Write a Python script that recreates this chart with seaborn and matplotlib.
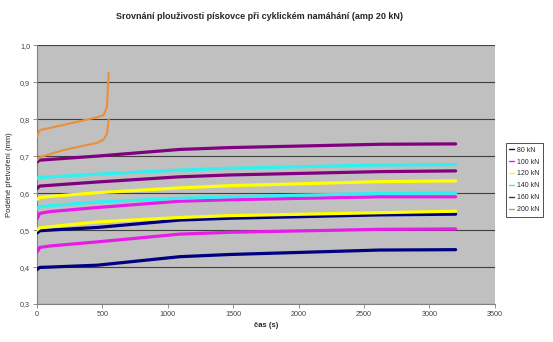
import matplotlib
matplotlib.use("Agg")
import matplotlib.pyplot as plt
import seaborn as sns
import pandas as pd
from matplotlib.ticker import FuncFormatter, MultipleLocator
from matplotlib.lines import Line2D

# ---- data ----
t = [0, 20, 100, 460, 1090, 1475, 2620, 3200]
navy_low = [0.393, 0.399, 0.400, 0.405, 0.428, 0.434, 0.446, 0.447]
navy_high = [0.492, 0.498, 0.500, 0.507, 0.527, 0.532, 0.541, 0.543]
mag_low = [0.440, 0.453, 0.457, 0.468, 0.489, 0.494, 0.502, 0.503]
mag_high = [0.530, 0.545, 0.550, 0.561, 0.578, 0.582, 0.590, 0.590]
yel_low = [0.500, 0.506, 0.509, 0.522, 0.534, 0.539, 0.547, 0.551]
yel_high = [0.583, 0.588, 0.591, 0.601, 0.614, 0.620, 0.631, 0.633]
cyan_low = [0.558, 0.563, 0.566, 0.576, 0.586, 0.590, 0.599, 0.600]
cyan_high = [0.640, 0.642, 0.644, 0.651, 0.662, 0.667, 0.676, 0.677]
pur_low = [0.612, 0.619, 0.621, 0.630, 0.644, 0.649, 0.658, 0.660]
pur_high = [0.684, 0.689, 0.691, 0.700, 0.718, 0.723, 0.732, 0.733]

t_orange = [0, 20, 200, 460, 510, 535, 548]
orange_low = [0.688, 0.697, 0.716, 0.736, 0.745, 0.761, 0.800]
orange_high = [0.752, 0.770, 0.784, 0.805, 0.811, 0.833, 0.925]

loads = ["80 kN", "100 kN", "120 kN", "140 kN", "160 kN", "200 kN"]
colors = ["#000080", "#E81CE8", "#FFFF00", "#30F0F0", "#800080", "#E8903C"]

title = "Srovnání plouživosti pískovce při cyklickém namáhání (amp 20 kN)"
xlabel = "čas (s)"
ylabel = "Podélné přetvoření (mm)"

series = [
    (t, navy_low, 0), (t, navy_high, 0),
    (t, mag_low, 1), (t, mag_high, 1),
    (t, yel_low, 2), (t, yel_high, 2),
    (t, cyan_low, 3), (t, cyan_high, 3),
    (t, pur_low, 4), (t, pur_high, 4),
    (t_orange, orange_low, 5), (t_orange, orange_high, 5),
]

sns.set_theme(style="white")
plt.rcParams['font.family'] = ['Liberation Sans', 'DejaVu Sans']

fig = plt.figure(figsize=(5.53, 3.42), dpi=100)
ax = fig.add_axes([0.0669, 0.111, 0.828, 0.757])
ax.set_facecolor("#C0C0C0")

for xs, ys, ci in series:
    df = pd.DataFrame({"t": xs, "v": ys})
    lw = 1.5 if ci == 5 else 2.3
    sns.lineplot(data=df, x="t", y="v", color=colors[ci], linewidth=lw, ax=ax,
                 legend=False, estimator=None, sort=False, zorder=3)

ax.set_xlim(0, 3500)
ax.set_ylim(0.3, 1.0)
ax.xaxis.set_major_locator(MultipleLocator(500))
ax.yaxis.set_major_locator(MultipleLocator(0.1))
ax.yaxis.set_major_formatter(FuncFormatter(lambda v, p: f"{v:.1f}".replace(".", ",")))
ax.grid(axis="y", color="#404040", linewidth=0.8, zorder=1)
ax.grid(axis="x", visible=False)
ax.set_axisbelow(True)

for s in ["top", "right"]:
    ax.spines[s].set_visible(False)
for s in ["left", "bottom"]:
    ax.spines[s].set_color("#808080")
    ax.spines[s].set_linewidth(0.8)

ax.tick_params(axis="both", which="major", direction="out", length=3, width=0.6,
               color="#808080", labelsize=5.2, labelcolor="#444444", pad=2,
               bottom=True, left=True)

ax.set_xlabel(xlabel, fontsize=5.5, fontweight="bold", labelpad=3)
ax.set_ylabel(ylabel, fontsize=5.5, labelpad=5)
fig.text(0.47, 0.952, title, ha="center", va="center", fontsize=6.5, fontweight="bold")

handles = [Line2D([0], [0], color=c, linewidth=1.0) for c in colors]
leg = fig.legend(handles, loads, loc="center left", bbox_to_anchor=(0.915, 0.474),
                 fontsize=5, frameon=True, fancybox=False, handlelength=0.7,
                 handletextpad=0.4, borderpad=0.5, labelspacing=0.7, borderaxespad=0)
leg.get_frame().set_edgecolor("#000000")
leg.get_frame().set_linewidth(0.6)

fig.savefig("out.png", dpi=100)
